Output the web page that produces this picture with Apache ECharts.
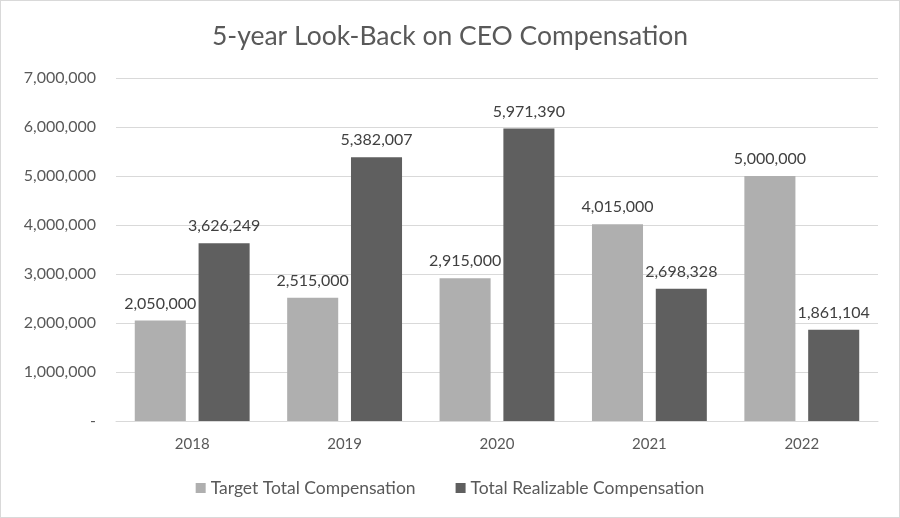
<!DOCTYPE html>
<html>
<head>
<meta charset="utf-8">
<script src="https://cdn.jsdelivr.net/npm/echarts@6/dist/echarts.min.js"></script>
<style>
html,body{margin:0;padding:0;background:#fff;}
#c{width:898px;height:516px;border:1px solid #d9d9d9;}
</style>
</head>
<body>
<div id="c"></div>
<script>
const categories = ['2018', '2019', '2020', '2021', '2022'];
const targetComp = [2050000, 2515000, 2915000, 4015000, 5000000];
const realizableComp = [3626249, 5382007, 5971390, 2698328, 1861104];
const seriesNames = ['Target Total Compensation', 'Total Realizable Compensation'];

const fmt = v => v === 0 ? '-' : v.toLocaleString('en-US');
const font = 'Lato, "Open Sans", sans-serif';
const chart = echarts.init(document.getElementById('c'));
chart.setOption({
  animation: false,
  textStyle: { fontFamily: font },
  title: {
    text: '5-year Look-Back on CEO Compensation',
    left: 'center', top: 17,
    textStyle: { fontSize: 26.5, fontWeight: 'normal', color: '#595959', fontFamily: font }
  },
  legend: {
    bottom: 15, left: 'center',
    itemWidth: 10, itemHeight: 10, itemGap: 40,
    icon: 'rect',
    textStyle: { fontSize: 17.5, color: '#595959', fontFamily: font }
  },
  grid: { left: 115, right: 21, top: 77, bottom: 96, containLabel: false },
  xAxis: {
    type: 'category', data: categories,
    axisLine: { lineStyle: { color: '#d9d9d9' } },
    axisTick: { show: false },
    axisLabel: { fontSize: 15, color: '#595959', margin: 16 }
  },
  yAxis: {
    type: 'value', min: 0, max: 7000000, interval: 1000000,
    axisLine: { show: false }, axisTick: { show: false },
    splitLine: { lineStyle: { color: '#d9d9d9' } },
    axisLabel: { fontSize: 16, color: '#595959', margin: 20, formatter: fmt }
  },
  series: [
    {
      name: seriesNames[0], type: 'bar', data: targetComp,
      barWidth: '33.5%', barGap: '25%',
      itemStyle: { color: '#afafaf' },
      label: { show: true, position: 'top', distance: 9, fontSize: 16, color: '#404040', formatter: p => fmt(p.value) }
    },
    {
      name: seriesNames[1], type: 'bar', data: realizableComp,
      barWidth: '33.5%',
      itemStyle: { color: '#5f5f5f' },
      label: { show: true, position: 'top', distance: 9, fontSize: 16, color: '#404040', formatter: p => fmt(p.value) }
    }
  ]
});
</script>
</body>
</html>
